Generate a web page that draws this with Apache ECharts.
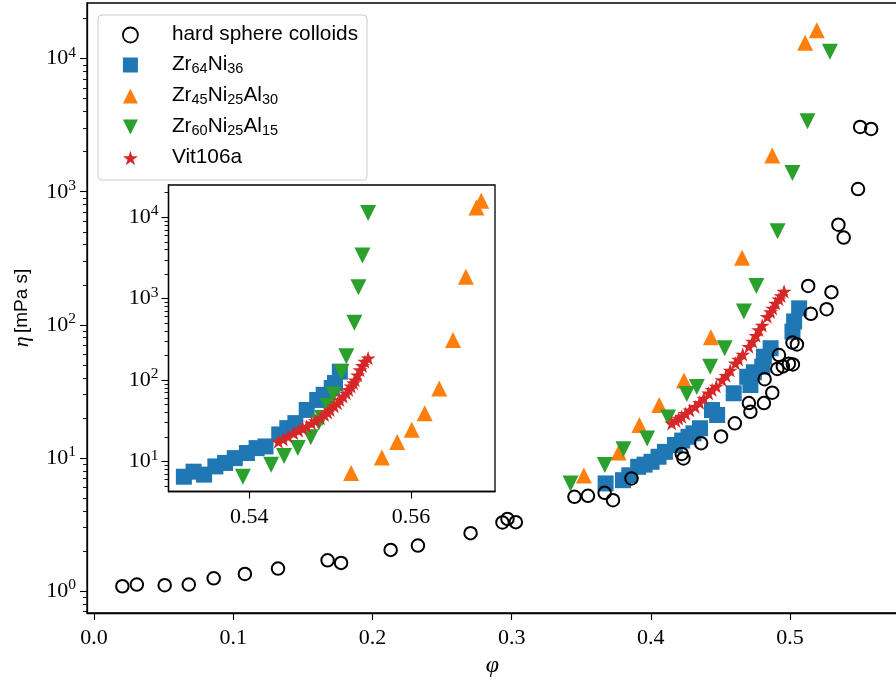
<!DOCTYPE html>
<html><head><meta charset="utf-8">
<script src="https://cdn.jsdelivr.net/npm/echarts@6/dist/echarts.min.js"></script>
<style>html,body{margin:0;padding:0;background:#fff}#c{width:896px;height:684px}</style>
</head><body><div id="c"></div>
<script>
// ---------- data (main panel) ----------
const colloidPhi = [0.0204,0.0308,0.0508,0.0681,0.086,0.1084,0.1322,0.1678,0.1775,0.2131,0.2327,0.2705,0.2934,0.297,0.303,
  0.3451,0.3548,0.3668,0.3728,0.3861,0.4222,0.4234,0.4361,0.4504,0.4603,0.4704,0.4715,0.4812,0.4872,0.4817,0.4908,0.4948,0.4991,0.502,0.492,
  0.5017,0.5049,0.5149,0.5262,0.513,0.5297,0.5347,0.5385,0.5488,0.5503,0.5582];
const colloidEta = [1.085,1.117,1.104,1.117,1.246,1.342,1.474,1.70,1.625,2.035,2.196,2.72,3.27,3.48,3.29,
  5.10,5.19,5.46,4.81,7.01,10.7,9.91,12.9,14.5,18.2,25.8,22.2,25.8,30.9,39.0,46.6,48.7,51.0,50.4,59.3,
  73.5,71.2,121,131,196,176,565,453,1047,3070,2965];

const zrNiPhi = [0.3675,0.380,0.3845,0.3909,0.3955,0.4005,0.4055,0.4101,0.4173,0.4225,0.427,0.4306,0.4353,0.4439,0.4476,0.4595,0.4692,0.4715,0.474,0.480,0.4812,0.486,0.5017,0.5029,0.5065];
const zrNiEta = [6.43,6.8,7.4,8.57,8.9,9.35,10.2,11.1,12.5,13.5,14.4,15.3,16.7,22.9,21.0,30.6,40.7,35.3,44,48.5,57.6,66.7,88.9,106,133];

const zrNiAl30Phi = [0.3519,0.3769,0.3918,0.406,0.4238,0.4431,0.4655,0.4872,0.5108,0.5192];
const zrNiAl30Eta = [7.36,11.0,17.7,25.0,38.2,80.7,319,1875,13150,16370];

const zrNiAl15Phi = [0.3423,0.3669,0.3803,0.3973,0.4124,0.4258,0.433,0.4426,0.453,0.4668,0.4758,0.491,0.5017,0.5125,0.5286];
const zrNiAl15Eta = [6.43,8.83,11.6,14.0,20.1,30.2,34.1,48.5,66.7,126,196,505,1384,3380,11250];

const vitPhi = [0.415,0.418,0.420,0.4222,0.425,0.428,0.4318,0.435,0.438,0.4415,0.444,0.447,0.4511,0.454,0.457,0.4607,0.463,0.466,0.4704,0.473,0.4755,0.4776,0.480,0.4836,0.486,0.4875,0.4896,0.492,0.4935,0.4957];
const vitEta = [18.2,19.0,19.8,20.4,21.5,22.8,24.2,26.0,28.0,30.6,32.5,34.5,38.5,41.5,45.5,51.4,55,60,68.6,75,83,91.5,99,115,125,133,145,156,165,178];

// ---------- data (inset) ----------
const insZrNiPhi = [0.5319,0.5331,0.5344,0.5358,0.5370,0.5382,0.5397,0.5409,0.5420,0.5437,0.5447,0.5457,0.5471,0.5484,0.5492,0.5502,0.5506,0.5512];
const insZrNiEta = [6.5,7.5,6.9,8.7,9.6,11.0,12.7,14.6,15.3,21.5,25.7,29.6,43,57,66,80,92,127];
const insAl30Phi = [0.5526,0.5564,0.5583,0.5601,0.5617,0.5635,0.5652,0.5668,0.5681,0.5687];
const insAl30Eta = [7.2,11.2,17.3,24.5,39,79,311,1860,13200,15900];
const insAl15Phi = [0.5392,0.5427,0.5443,0.5460,0.5476,0.5486,0.5490,0.5497,0.5504,0.5514,0.5520,0.5530,0.5535,0.5540,0.5547];
const insAl15Eta = [6.5,9.1,11.7,14.6,19.9,30.2,34.1,48.5,66.7,126,196,505,1384,3380,11250];
const insVitPhi = [0.5436,0.5442,0.5448,0.5455,0.5461,0.5466,0.5471,0.5477,0.5482,0.5488,0.5493,0.5497,0.5500,0.5505,0.5509,0.5512,0.5516,0.5520,0.5523,0.5526,0.5529,0.5531,0.5534,0.5537,0.5540,0.5543,0.5547];
const insVitEta = [17.6,18.8,20.3,22.3,24.0,25.5,26.9,29.5,31.5,34.1,37.5,40,43,48,52,57,63,69,76,84,92,100,115,133,150,169,186];

// ---------- ticks ----------
const mainXTicks = [0, 0.1, 0.2, 0.3, 0.4, 0.5];
const mainYTicks = [1, 10, 100, 1000, 10000];
const mainYMinor = [0.7,0.8,0.9,2,3,4,5,6,7,8,9,20,30,40,50,60,70,80,90,200,300,400,500,600,700,800,900,2000,3000,4000,5000,6000,7000,8000,9000,20000];
const insXTicks = [0.54, 0.56];
const insYTicks = [10, 100, 1000, 10000];
const insYMinor = [5,6,7,8,9,20,30,40,50,60,70,80,90,200,300,400,500,600,700,800,900,2000,3000,4000,5000,6000,7000,8000,9000,20000];

const names = ['hard sphere colloids','Zr64Ni36','Zr45Ni25Al30','Zr60Ni25Al15','Vit106a'];
const legendRich = {
  'hard sphere colloids': '{b|hard sphere colloids}',
  'Zr64Ni36': '{b|Zr}{s|64}{b|Ni}{s|36}',
  'Zr45Ni25Al30': '{b|Zr}{s|45}{b|Ni}{s|25}{b|Al}{s|30}',
  'Zr60Ni25Al15': '{b|Zr}{s|60}{b|Ni}{s|25}{b|Al}{s|15}',
  'Vit106a': '{b|Vit106a}'
};

const colors = ['#000000','#1f77b4','#ff7f0e','#2ca02c','#d62728'];
const STAR = 'path://M50,0 L61.2,34.5 L97.6,34.5 L68.2,55.9 L79.4,90.5 L50,69.1 L20.6,90.5 L31.8,55.9 L2.4,34.5 L38.8,34.5 Z';
const DOWN_TRI = 'path://M0,0 L100,0 L50,100 Z';

function pairs(xs, ys){ return xs.map((x,i)=>[x, ys[i]]); }

const SERIF = 'Liberation Serif';
const SANS = 'Liberation Sans';
const tickRich = {
  b: {fontFamily: SERIF, fontSize: 22, lineHeight: 28, color: '#000'},
  sup: {fontFamily: SERIF, fontSize: 15.5, lineHeight: 16, verticalAlign: 'top', color: '#000'}
};
function powLabel(v){ const e = Math.round(Math.log10(v)); return '{b|10}{sup|' + e + '}'; }

const lineStyle = {color:'#000', width:1.3};
const tickStyle = {color:'#000', width:1.1};

function xAxisCfg(grid, min, max, ticks, fmt, margin){
  return {
    type:'value', gridIndex:grid, min:min, max:max,
    axisLine:{show:true, onZero:false, lineStyle:lineStyle},
    axisTick:{show:true, inside:false, length:7, lineStyle:tickStyle, customValues:ticks},
    axisLabel:{show:true, customValues:ticks, formatter:fmt, margin:margin, color:'#000', fontFamily:SERIF, fontSize:22},
    splitLine:{show:false}
  };
}
function yAxisCfg(grid, min, max, ticks, margin){
  return {
    type:'log', logBase:10, gridIndex:grid, min:min, max:max, position:'left',
    axisLine:{show:true, onZero:false, lineStyle:lineStyle},
    axisTick:{show:true, inside:false, length:7, lineStyle:tickStyle, customValues:ticks},
    axisLabel:{show:true, customValues:ticks, formatter:powLabel, margin:margin, rich:tickRich},
    splitLine:{show:false}, minorTick:{show:false}
  };
}
function yMinorCfg(grid, min, max, ticks){
  return {
    type:'log', logBase:10, gridIndex:grid, min:min, max:max, position:'left',
    axisLine:{show:false, onZero:false},
    axisTick:{show:true, inside:false, length:4, lineStyle:{color:'#000', width:0.9}, customValues:ticks},
    axisLabel:{show:false}, splitLine:{show:false}
  };
}

function sc(name, xi, yi, data, k, z){
  const base = {name:name, type:'scatter', xAxisIndex:xi, yAxisIndex:yi, data:data, z:z, emphasis:{disabled:true}, silent:true};
  if (k === 0) return Object.assign(base, {symbol:'circle', symbolSize:12.5, itemStyle:{color:'rgba(0,0,0,0)', borderColor:'#000', borderWidth:2, opacity:1}});
  if (k === 1) return Object.assign(base, {symbol:'rect', symbolSize:16, itemStyle:{color:colors[1], opacity:1}});
  if (k === 2) return Object.assign(base, {symbol:'triangle', symbolSize:16, itemStyle:{color:colors[2], opacity:1}});
  if (k === 3) return Object.assign(base, {symbol:'triangle', symbolRotate:180, symbolSize:16, itemStyle:{color:colors[3], opacity:1}});
  return Object.assign(base, {symbol:STAR, symbolKeepAspect:true, symbolSize:15, itemStyle:{color:colors[4], opacity:1}});
}

const chart = echarts.init(document.getElementById('c'), null, {renderer:'canvas'});
chart.setOption({
  animation:false,
  backgroundColor:'#fff',
  grid:[
    {left:87, top:3, width:811, height:610, show:true, borderColor:'#000', borderWidth:1.3, backgroundColor:'rgba(0,0,0,0)', outerBoundsMode:'none', containLabel:false},
    {left:168.5, top:185, width:326.5, height:306.5, show:true, borderColor:'#000', borderWidth:1.3, backgroundColor:'#fff', outerBoundsMode:'none', containLabel:false, z:3}
  ],
  xAxis:[
    Object.assign(xAxisCfg(0, -0.005, 0.5775, mainXTicks, v=>v.toFixed(1), 14),
      {name:'φ', nameLocation:'middle', nameGap:36, nameTextStyle:{fontFamily:SERIF, fontStyle:'italic', fontSize:24, color:'#000'}}),
    Object.assign(xAxisCfg(1, 0.530, 0.5704, insXTicks, v=>v.toFixed(2), 15), {z:4})
  ],
  yAxis:[
    Object.assign(yAxisCfg(0, 0.683, 26200, mainYTicks, 11),
      {name:'{e|η} {s|[mPa s]}', nameLocation:'middle', nameGap:54, nameRotate:90,
       nameTextStyle:{rich:{e:{fontFamily:SERIF, fontStyle:'italic', fontSize:22, color:'#000'}, s:{fontFamily:SANS, fontSize:19, color:'#000'}}}}),
    yMinorCfg(0, 0.683, 26200, mainYMinor),
    Object.assign(yAxisCfg(1, 4.28, 24900, insYTicks, 10), {z:4}),
    Object.assign(yMinorCfg(1, 4.28, 24900, insYMinor), {z:4})
  ],
  legend:{
    show:true, orient:'vertical', left:98, top:15,
    padding:[9, 9, 12, 24], itemGap:9, itemWidth:15, itemHeight:15,
    backgroundColor:'rgba(255,255,255,0.85)', borderColor:'#cccccc', borderWidth:1, borderRadius:4,
    selectedMode:false, z:10,
    data: names.map((n,i)=> {
      if (i === 0) return {name:n, icon:'circle', itemStyle:{color:'rgba(0,0,0,0)', borderColor:'#000', borderWidth:1.8}};
      if (i === 3) return {name:n, icon:DOWN_TRI};
      return {name:n};
    }),
    formatter: n => '{g|}' + legendRich[n],
    textStyle:{color:'#000', rich:{
      g:{width:29, height:22},
      b:{fontFamily:SANS, fontSize:20.8, lineHeight:22, verticalAlign:'top', color:'#000'},
      s:{fontFamily:SANS, fontSize:14.5, lineHeight:14, verticalAlign:'bottom', color:'#000'}
    }}
  },
  series:[
    sc(names[0], 0, 0, pairs(colloidPhi, colloidEta), 0, 6),
    sc(names[1], 0, 0, pairs(zrNiPhi, zrNiEta), 1, 2),
    sc(names[2], 0, 0, pairs(zrNiAl30Phi, zrNiAl30Eta), 2, 3),
    sc(names[3], 0, 0, pairs(zrNiAl15Phi, zrNiAl15Eta), 3, 4),
    sc(names[4], 0, 0, pairs(vitPhi, vitEta), 4, 5),
    sc(names[1], 1, 2, pairs(insZrNiPhi, insZrNiEta), 1, 12),
    sc(names[2], 1, 2, pairs(insAl30Phi, insAl30Eta), 2, 13),
    sc(names[3], 1, 2, pairs(insAl15Phi, insAl15Eta), 3, 14),
    sc(names[4], 1, 2, pairs(insVitPhi, insVitEta), 4, 15)
  ]
});
</script></body></html>
